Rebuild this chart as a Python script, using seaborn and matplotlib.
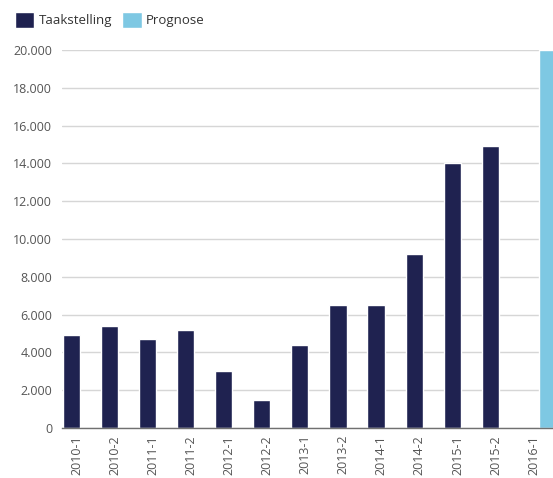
import pandas as pd
import seaborn as sns
import matplotlib.pyplot as plt
from matplotlib.transforms import ScaledTranslation

categories = ['2010-1', '2010-2', '2011-1', '2011-2', '2012-1', '2012-2',
              '2013-1', '2013-2', '2014-1', '2014-2', '2015-1', '2015-2', '2016-1']
taakstelling = [4900, 5400, 4700, 5200, 3000, 1500, 4400, 6500, 6500, 9200,
                14000, 14900, None]
prognose = [None] * 12 + [20000]
yticks = [0, 2000, 4000, 6000, 8000, 10000, 12000, 14000, 16000, 18000, 20000]


def main():
    df = pd.concat([
        pd.DataFrame({'periode': categories, 'waarde': taakstelling,
                      'serie': ['Taakstelling'] * len(categories)}),
        pd.DataFrame({'periode': categories, 'waarde': prognose,
                      'serie': ['Prognose'] * len(categories)}),
    ], ignore_index=True)
    df['waarde'] = df['waarde'].astype(float)

    sns.set_style('white')
    plt.rcParams['font.family'] = ['Open Sans', 'DejaVu Sans']

    fig = plt.figure(figsize=(5.53, 4.78), dpi=100)
    ax = fig.add_axes([62 / 553, 50 / 478, 1 - 62 / 553, 378 / 478])

    sns.barplot(data=df, x='periode', y='waarde', hue='serie', order=categories,
                hue_order=['Taakstelling', 'Prognose'],
                palette=['#1f2250', '#7ec8e3'], width=1.0, gap=0.1,
                errorbar=None, saturation=1, ax=ax, zorder=3)

    ax.set_xlim(-0.5, 12.4)
    ax.set_ylim(0, 20000)
    ax.set_yticks(yticks)
    ax.set_yticklabels([f'{v:,}'.replace(',', '.') for v in yticks])
    ax.set_xlabel('')
    ax.set_ylabel('')

    ax.grid(axis='y', color='#d6d6d6', linewidth=1, zorder=0)
    ax.grid(axis='x', visible=False)
    for s in ['top', 'right', 'left']:
        ax.spines[s].set_visible(False)
    ax.spines['bottom'].set_color('#707070')
    ax.spines['bottom'].set_linewidth(1)
    ax.spines['bottom'].set_zorder(4)

    ax.tick_params(axis='y', length=0, pad=7, labelsize=9, labelcolor='#555555')
    ax.tick_params(axis='x', length=0, pad=5, labelsize=9, labelcolor='#555555',
                   labelrotation=90)
    shift = ScaledTranslation(-3 / 72, 0, fig.dpi_scale_trans)
    for lab in ax.get_xticklabels():
        lab.set_transform(lab.get_transform() + shift)

    handles, labels = ax.get_legend_handles_labels()
    ax.get_legend().remove()
    fig.legend(handles, labels, loc='upper left', bbox_to_anchor=(0.005, 1.0),
               ncol=2, frameon=False, fontsize=9.5, handlelength=1.45,
               handleheight=1.5, handletextpad=0.35, columnspacing=0.8,
               labelcolor='#333333')

    plt.savefig('out.png', dpi=100)


if __name__ == '__main__':
    main()
